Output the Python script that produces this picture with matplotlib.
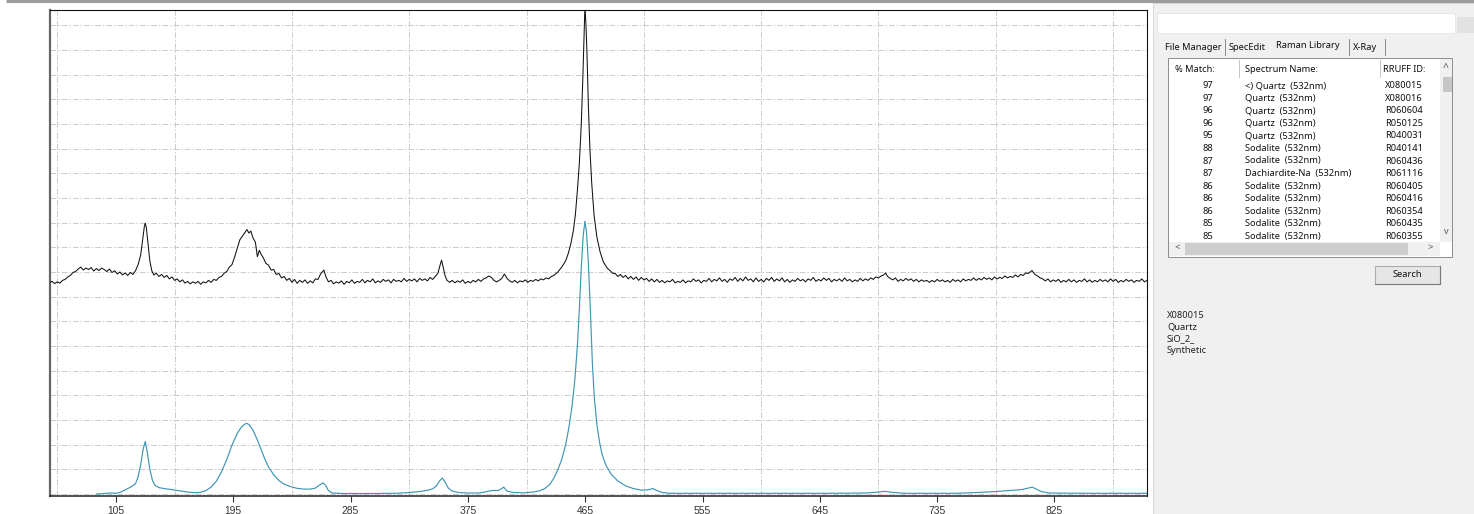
import matplotlib.pyplot as plt
from matplotlib.patches import Rectangle

# measured spectrum (black) -- wavenumber / intensity
wn_meas = [54, 56, 58, 60, 62, 64, 66, 68, 70, 72, 74, 76, 78, 80, 82, 84, 86, 88, 90, 92,
           94, 96, 98, 100, 102, 104, 106, 108, 110, 112, 114, 116, 118, 120,
           122, 124, 125.5, 126.8, 127.5, 128.3, 129.5, 131, 132.5, 134,
           136, 138, 140, 142, 144, 146, 148, 150, 152, 154, 156, 158, 160, 162, 164, 166, 168,
           170, 172, 174, 176, 178, 180, 182, 184, 186, 188, 190,
           192, 194, 196, 198, 200, 202, 204, 205.5, 207, 208.5, 210, 212, 213.5, 215, 216.5, 218,
           220, 222, 224, 226, 228, 230, 232, 234, 236, 238, 240, 242, 244, 246, 248, 250, 252,
           254, 256, 258, 260, 262, 264.5, 266,
           268, 270, 272, 274, 276, 278, 280, 282, 284, 286, 288, 290, 292, 294, 296, 298, 300,
           302, 304, 306, 308, 310, 312, 314, 316, 318, 320, 322, 324, 326, 328, 330, 332, 334,
           336, 338, 340, 342, 344, 346, 348, 350,
           352, 353.5, 354.8, 356, 357.5, 359,
           361, 363, 365, 367, 369, 371, 373, 375, 377, 379, 381, 383, 385, 387, 389, 391, 393,
           395, 397, 399, 401, 403, 405, 407, 409, 411, 413, 415, 417, 419, 421, 423, 425, 427,
           429, 431, 433, 435, 437, 439, 441,
           444, 447, 450, 452, 454, 456, 457.5, 459, 460.5, 462, 463.2, 464.2, 464.8, 465.6,
           466.4, 467.4, 468.6, 470, 471.8, 474, 476.5, 479, 482, 484, 486,
           488, 490, 492, 494, 496, 498, 500, 502, 504, 506, 508, 510, 512, 514, 516, 518, 520,
           522, 524, 526, 528,
           530, 532, 534, 536, 538, 540, 542, 544, 546, 548, 550, 552, 554, 556, 558, 560, 562,
           564, 566, 568, 570, 572, 574, 576, 578, 580, 582, 584, 586, 588, 590, 592, 594, 596,
           598, 600, 602, 604, 606, 608, 610, 612, 614, 616, 618, 620, 622, 624, 626, 628, 630,
           632, 634, 636, 638, 640, 642, 644, 646, 648, 650, 652, 654, 656, 658, 660, 662, 664,
           666, 668, 670, 672, 674, 676, 678, 680, 682, 684, 686, 688, 690, 692, 694,
           695.5, 697,
           699, 701, 703, 705, 707, 709, 711, 713, 715, 717, 719, 721, 723, 725, 727, 729, 731,
           733, 735, 737, 739, 741, 743, 745, 747, 749, 751, 753, 755, 757, 759, 761, 763, 765,
           767, 769, 771, 773, 775, 777, 779, 781, 783, 785, 787, 789, 791, 793, 795, 797, 799,
           801, 803, 805,
           807.7,
           810, 812, 814, 816, 818, 820, 822, 824, 826, 828, 830, 832, 834, 836, 838, 840, 842,
           844, 846, 848, 850, 852, 854, 856, 858, 860, 862, 864, 866, 868, 870, 872, 874, 876,
           878, 880, 882, 884, 886, 888, 890, 892, 894, 896]
int_meas = [8.57, 8.62, 8.53, 8.6, 8.55, 8.66, 8.7, 8.8, 8.86, 8.98, 9.02, 9.12, 9.2, 9.08, 9.16,
            9.1, 9.18, 9.04, 9.14, 9.06, 9.16, 9.1, 9.02, 9.12, 8.98, 9.05, 8.92, 9.0, 8.88, 8.96,
            8.86, 8.98, 8.9, 9.05,
            9.3, 9.7, 10.3, 10.85, 10.98, 10.8, 10.2, 9.45, 9.05, 8.88,
            8.95, 8.82, 8.9, 8.78, 8.86, 8.72, 8.8, 8.66, 8.72, 8.6, 8.68, 8.55, 8.62, 8.52, 8.6,
            8.54, 8.62, 8.5, 8.6, 8.56, 8.66, 8.58, 8.7, 8.66, 8.78, 8.82, 8.95, 9.02,
            9.2, 9.3, 9.6, 9.95, 10.3, 10.45, 10.6, 10.72, 10.58, 10.66, 10.4, 10.2, 9.62, 9.88,
            9.7, 9.58, 9.35, 9.28, 9.08, 9.1, 8.9, 8.94, 8.76, 8.82, 8.66, 8.74, 8.58, 8.7, 8.54,
            8.66, 8.58, 8.68, 8.54, 8.64, 8.56, 8.72, 8.7, 8.92, 9.08, 8.82,
            8.6, 8.66, 8.52, 8.6, 8.55, 8.64, 8.5, 8.62, 8.56, 8.68, 8.54, 8.62, 8.58, 8.7, 8.56,
            8.66, 8.6, 8.72, 8.56, 8.64, 8.58, 8.7, 8.62, 8.68, 8.56, 8.7, 8.62, 8.66, 8.6, 8.74,
            8.62, 8.7, 8.64, 8.72, 8.6, 8.74, 8.66, 8.72, 8.64, 8.78, 8.7, 8.82,
            8.95, 9.25, 9.48, 9.2, 8.85, 8.66,
            8.58, 8.66, 8.56, 8.64, 8.58, 8.68, 8.54, 8.62, 8.56, 8.66, 8.6, 8.7, 8.62, 8.72, 8.76,
            8.84, 8.78, 8.66, 8.6, 8.66, 8.74, 8.92, 8.74, 8.64, 8.58, 8.66, 8.56, 8.64, 8.6, 8.68,
            8.58, 8.66, 8.62, 8.7, 8.64, 8.72, 8.68, 8.76, 8.72, 8.82, 8.86,
            9.0, 9.2, 9.45, 9.75, 10.15, 10.7, 11.35, 12.3, 13.4, 15.0, 16.9, 18.7, 19.8, 19.0,
            17.8, 15.8, 14.0, 12.6, 11.3, 10.4, 9.8, 9.4, 9.15, 9.06, 8.95,
            8.94, 8.82, 8.9, 8.78, 8.86, 8.72, 8.82, 8.7, 8.8, 8.66, 8.78, 8.68, 8.74, 8.62, 8.72,
            8.6, 8.7, 8.58, 8.66, 8.56, 8.64,
            8.6, 8.7, 8.56, 8.62, 8.58, 8.68, 8.56, 8.64, 8.6, 8.72,
            8.62, 8.68, 8.56, 8.66, 8.62, 8.74, 8.6, 8.7, 8.64, 8.76,
            8.62, 8.7, 8.58, 8.72, 8.66, 8.78, 8.62, 8.74, 8.64, 8.8,
            8.66, 8.72, 8.6, 8.76, 8.62, 8.7, 8.6, 8.74, 8.66, 8.78,
            8.62, 8.72, 8.64, 8.76, 8.6, 8.7, 8.58, 8.68, 8.62, 8.74,
            8.64, 8.7, 8.6, 8.72, 8.66, 8.78, 8.62, 8.7, 8.64, 8.76,
            8.66, 8.74, 8.6, 8.7, 8.64, 8.72, 8.62, 8.76, 8.64, 8.7,
            8.6, 8.68, 8.62, 8.74, 8.64, 8.72, 8.66, 8.76, 8.7, 8.8,
            8.76, 8.84, 8.88,
            8.96, 8.82,
            8.74, 8.68, 8.76, 8.62, 8.7, 8.64, 8.74, 8.66, 8.72, 8.62,
            8.7, 8.6, 8.68, 8.62, 8.66, 8.58, 8.66, 8.6, 8.7, 8.62,
            8.68, 8.6, 8.66, 8.58, 8.7, 8.62, 8.68, 8.6, 8.72, 8.64,
            8.7, 8.66, 8.76, 8.66, 8.74, 8.68, 8.78, 8.7, 8.76, 8.68,
            8.8, 8.72, 8.78, 8.74, 8.84, 8.76, 8.82, 8.78, 8.88, 8.8,
            8.9, 8.86, 8.96, 8.94,
            9.06,
            8.9, 8.84, 8.76, 8.72, 8.64, 8.72, 8.6, 8.68, 8.62, 8.7,
            8.58, 8.66, 8.6, 8.7, 8.6, 8.68, 8.58, 8.66, 8.62, 8.72,
            8.6, 8.68, 8.58, 8.66, 8.6, 8.7, 8.62, 8.68, 8.6, 8.72,
            8.62, 8.7, 8.58, 8.66, 8.6, 8.7, 8.62, 8.68, 8.58, 8.66,
            8.62, 8.72, 8.6, 8.66]

# library reference spectrum (blue)
wn_ref = [90, 95, 100, 105, 108, 111, 114, 117, 120, 122, 124, 126, 127.5, 129, 131, 133, 135, 138,
          142, 148, 154, 160, 166, 170, 174, 178, 182, 186, 190, 194, 198, 201, 204, 205.5, 207,
          210, 213, 216, 219, 222, 226, 230, 234, 239, 244, 249, 254, 258, 261, 264, 266, 268,
          271, 280, 300, 320, 330, 338, 344, 348, 351, 353.5, 355.5, 357.5, 360, 363, 368, 375,
          383, 388, 392, 395, 398, 400.5, 402.5, 405, 410, 418, 425, 430, 434, 438, 441, 444,
          447, 450, 452.5, 455, 457, 459, 460.5, 462, 463.5, 464.8, 466, 467.5, 469, 470.5, 472,
          474, 476, 478, 481, 485, 490, 496, 502, 508, 513, 517, 520, 524, 530, 560, 600, 650,
          680, 690, 695, 700, 710, 750, 765, 780, 792, 800, 805, 808, 811, 815, 821, 850, 896]
int_ref = [0.0, 0.02, 0.04, 0.03, 0.06, 0.14, 0.22, 0.3, 0.42, 0.7, 1.2, 1.85, 2.13, 1.7, 1.0, 0.55,
           0.35, 0.26, 0.22, 0.18, 0.13, 0.08, 0.05, 0.07, 0.14, 0.28, 0.52, 0.9, 1.4, 1.98, 2.45,
           2.7, 2.84, 2.86, 2.82, 2.6, 2.25, 1.85, 1.45, 1.1, 0.78, 0.55, 0.4, 0.3, 0.23, 0.2, 0.2,
           0.24, 0.36, 0.45, 0.34, 0.14, 0.04, 0.02, 0.02, 0.03, 0.06, 0.1, 0.15, 0.21, 0.34, 0.55,
           0.65, 0.48, 0.24, 0.12, 0.06, 0.04, 0.04, 0.08, 0.13, 0.15, 0.14, 0.2, 0.28, 0.12, 0.06,
           0.05, 0.08, 0.13, 0.22, 0.4, 0.65, 0.98, 1.4, 2.0, 2.7, 3.6, 4.6, 6.0, 7.5, 9.2, 10.5,
           11.06, 10.6, 9.3, 7.4, 5.3, 3.9, 2.8, 2.1, 1.6, 1.15, 0.8, 0.53, 0.33, 0.22, 0.16, 0.17,
           0.22, 0.14, 0.06, 0.03, 0.03, 0.03, 0.03, 0.04, 0.08, 0.11, 0.07, 0.03, 0.03, 0.06, 0.1,
           0.15, 0.18, 0.24, 0.28, 0.2, 0.1, 0.04, 0.03, 0.03]

x_labels = [105, 195, 285, 375, 465, 555, 645, 735, 825]

# library search results
match_pct = [97, 97, 96, 96, 95, 88, 87, 87, 86, 86, 86, 85, 85]
spec_names = ['<) Quartz  (532nm)', 'Quartz  (532nm)', 'Quartz  (532nm)', 'Quartz  (532nm)',
              'Quartz  (532nm)', 'Sodalite  (532nm)', 'Sodalite  (532nm)', 'Dachiardite-Na  (532nm)',
              'Sodalite  (532nm)', 'Sodalite  (532nm)', 'Sodalite  (532nm)', 'Sodalite  (532nm)',
              'Sodalite  (532nm)']
rruff_ids = ['X080015', 'X080016', 'R060604', 'R050125', 'R040031', 'R040141', 'R060436',
             'R061116', 'R060405', 'R060416', 'R060354', 'R060435', 'R060355']
tab_names = ['File Manager', 'SpecEdit', 'Raman Library', 'X-Ray']
info_lines = ['X080015', 'Quartz', 'SiO_2_', 'Synthetic']

W, H = 1474, 514
fig = plt.figure(figsize=(W / 100, H / 100), dpi=100)

# ---- overlay in pixel coords for the side panel ----
ui = fig.add_axes([0, 0, 1, 1], zorder=0)
ui.set_xlim(0, W)
ui.set_ylim(H, 0)
ui.axis('off')

ui_font = 'Noto Sans'
fs = 6.7

ui.plot([6, W], [1, 1], color='#9c9c9c', lw=2.2, solid_capstyle='butt')
ui.add_patch(Rectangle((1153, 3), W - 1153, H - 3, facecolor='#f0f0f0', edgecolor='#d8d8d8', lw=0.7))
# search box
ui.add_patch(Rectangle((1157, 13), 298, 20, facecolor='white', edgecolor='#e6e6e6', lw=0.6))
ui.add_patch(Rectangle((1457, 17), 17, 16, facecolor='#e2e2e2', edgecolor='none'))

# tabs
tab_x = [1165, 1229, 1276, 1353]
for name, tx in zip(tab_names, tab_x):
    ty = 45 if name == 'Raman Library' else 47
    ui.text(tx, ty, name, fontsize=fs, family=ui_font, va='center', ha='left', color='#111111')
for sx in [1225, 1349, 1385]:
    ui.plot([sx, sx], [39, 55], color='#8a8a8a', lw=0.7)

# results table
ui.add_patch(Rectangle((1168, 58), 284, 199, facecolor='white', edgecolor='#8c8c8c', lw=0.7))
for sx in [1239, 1380]:
    ui.plot([sx, sx], [60, 77], color='#c4c4c4', lw=0.7)
ui.text(1175, 69, '% Match:', fontsize=fs, family=ui_font, va='center', color='#111111')
ui.text(1245, 69, 'Spectrum Name:', fontsize=fs, family=ui_font, va='center', color='#111111')
ui.text(1383, 69, 'RRUFF ID:', fontsize=fs, family=ui_font, va='center', color='#111111')

row_y0, row_dy = 85.7, 12.55
for i, (m, n, r) in enumerate(zip(match_pct, spec_names, rruff_ids)):
    yy = row_y0 + i * row_dy
    if yy > 240:
        break
    ui.text(1213, yy, str(m), fontsize=fs, family=ui_font, va='center', ha='right', color='#111111')
    ui.text(1245, yy, n, fontsize=fs, family=ui_font, va='center', ha='left', color='#111111')
    ui.text(1385, yy, r, fontsize=fs, family=ui_font, va='center', ha='left', color='#111111')

# vertical scrollbar
ui.add_patch(Rectangle((1440, 59), 12, 183, facecolor='#f0f0f0', edgecolor='none'))
ui.add_patch(Rectangle((1443, 77), 9, 15, facecolor='#c6c6c6', edgecolor='none'))
ui.text(1446, 69, '^', fontsize=7.5, family=ui_font, va='center', ha='center', color='#555555')
ui.text(1446, 232, 'v', fontsize=6.5, family=ui_font, va='center', ha='center', color='#555555')
# horizontal scrollbar (covers the cut-off last row)
ui.add_patch(Rectangle((1169, 242), 271, 14, facecolor='#f0f0f0', edgecolor='none'))
ui.add_patch(Rectangle((1185, 243), 223, 12, facecolor='#cdcdcd', edgecolor='none'))
ui.text(1177, 248, '<', fontsize=7, family=ui_font, va='center', ha='center', color='#555555')
ui.text(1430, 248, '>', fontsize=7, family=ui_font, va='center', ha='center', color='#555555')

# search button
ui.add_patch(Rectangle((1375, 266), 65, 18, facecolor='#e6e6e6', edgecolor='#adadad', lw=0.8))
ui.plot([1440, 1440, 1375], [266, 284, 284], color='#7a7a7a', lw=0.8)
ui.text(1407, 274.5, 'Search', fontsize=fs, family=ui_font, va='center', ha='center', color='#111111')

for i, line in enumerate(info_lines):
    ui.text(1167, 315 + i * 11.8, line, fontsize=fs, family=ui_font, va='center', ha='left',
            color='#222222')

# ---- spectrum plot ----
ax = fig.add_axes([50 / W, 18 / H, 1097 / W, 486 / H], zorder=1)
ax.set_facecolor('white')
ax.plot(wn_ref, int_ref, color='#3f95b5', lw=0.85, zorder=3)
ax.plot(wn_meas, int_meas, color='#111111', lw=0.75, zorder=4)

ax.set_xlim(54.4, 896)
ax.set_ylim(-0.08, 19.62)
ax.set_xticks(x_labels)
ax.set_xticks(list(range(60, 900, 45)), minor=True)
ax.set_yticks(list(range(0, 20)))
ax.set_yticklabels([])
ax.tick_params(axis='y', length=0)
ax.tick_params(axis='x', which='major', length=4, width=0.8, color='#333333', pad=3,
               labelsize=7.4, labelcolor='#333333')
ax.tick_params(axis='x', which='minor', length=0)
for lab in ax.get_xticklabels():
    lab.set_family('Liberation Sans')

grid_style = dict(color='#cbcbcb', lw=0.7, linestyle=(0, (6, 2, 1.5, 2)))
ax.grid(True, axis='x', which='minor', **grid_style)
ax.grid(True, axis='y', which='major', **grid_style)
ax.set_axisbelow(True)

ax.spines['left'].set_color('#666666')
ax.spines['left'].set_linewidth(1.6)
ax.spines['bottom'].set_color('#222222')
ax.spines['bottom'].set_linewidth(1.1)
ax.spines['top'].set_color('#111111')
ax.spines['top'].set_linewidth(0.8)
ax.spines['right'].set_color('#111111')
ax.spines['right'].set_linewidth(0.8)

fig.savefig('out.png', dpi=100)
